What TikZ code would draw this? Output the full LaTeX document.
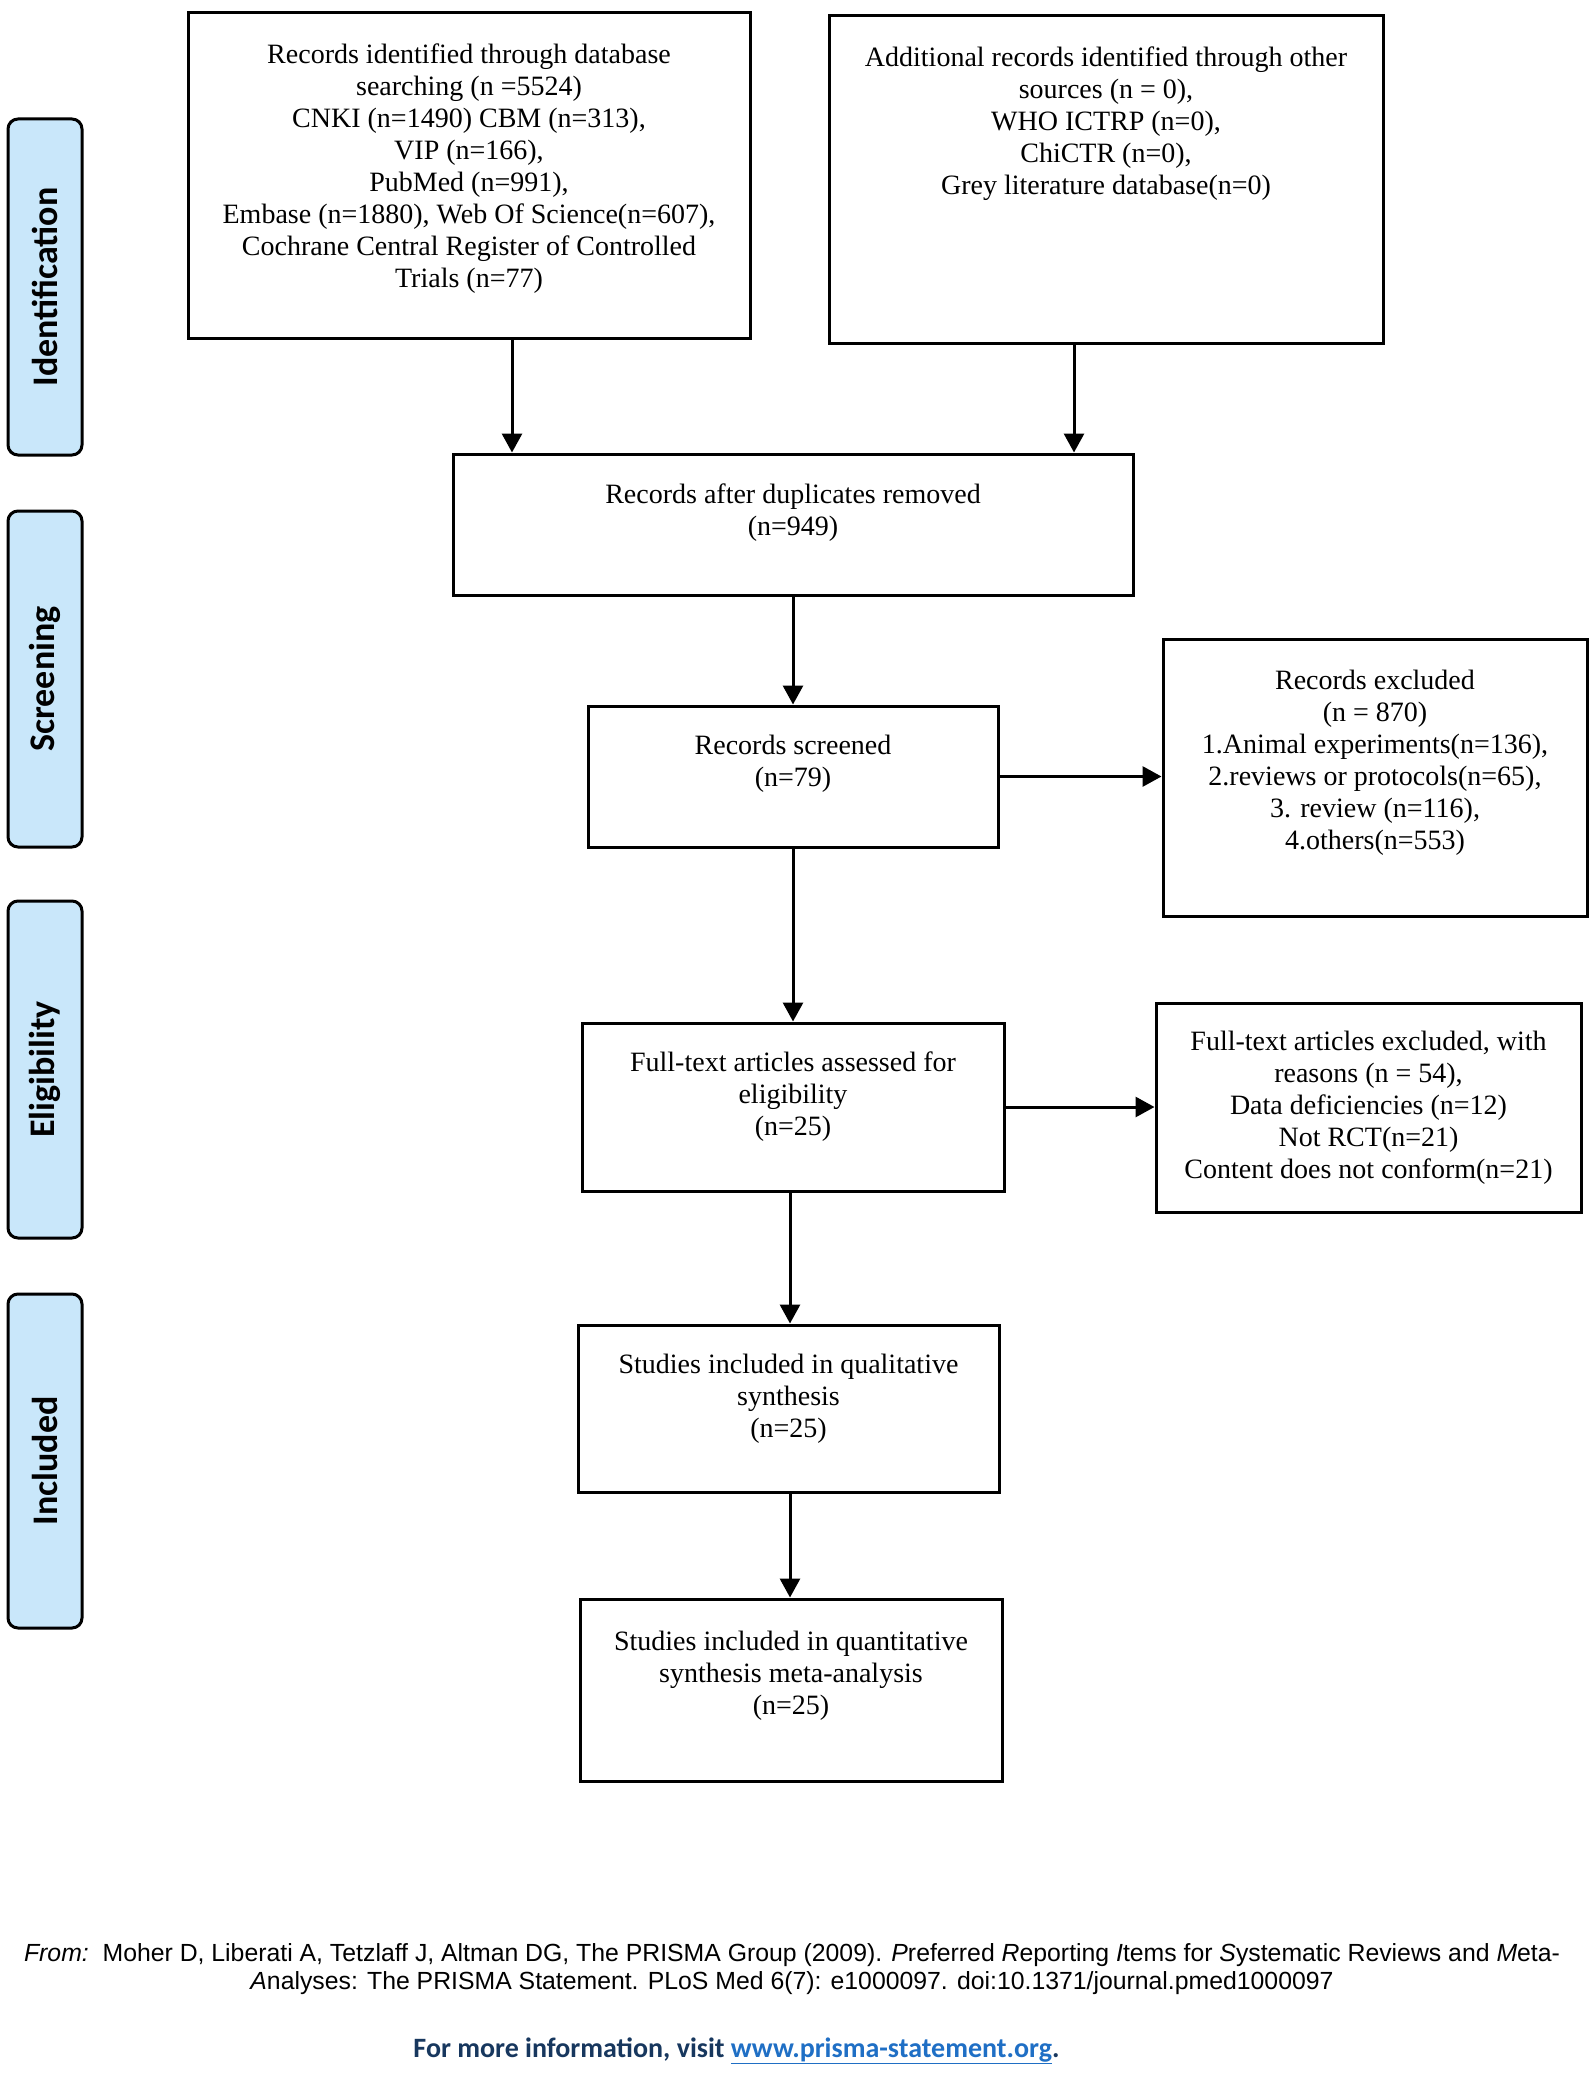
\documentclass[tikz,border=0pt]{standalone}
\usepackage{fontspec}
\setmainfont{Liberation Serif}
\newfontfamily\labfont{Carlito}
\newfontfamily\arialfont{Liberation Sans}
\usetikzlibrary{arrows.meta,calc}
\definecolor{labfill}{HTML}{C9E7FA}
\definecolor{navy}{HTML}{17375E}
\definecolor{linkblue}{HTML}{1F6FC5}
\begin{document}
\begin{tikzpicture}[x=1pt,y=-1pt,
  box/.style={draw=black,line width=3pt,rectangle,inner sep=0pt},
  txt/.style={font=\fontsize{28}{32}\selectfont,align=center,inner sep=0pt,anchor=north},
  side/.style={draw=black,line width=3pt,fill=labfill,rounded corners=10pt,inner sep=0pt,minimum height=74pt},
  sidetxt/.style={font=\labfont\bfseries\fontsize{36}{40}\selectfont,rotate=90,inner sep=0pt},
  arr/.style={line width=3pt,-{Triangle[length=19pt,width=20pt]}}]
\useasboundingbox (0,0) rectangle (1595,2074);
\fill[white] (0,0) rectangle (1595,2074);

% side labels
\node[side,minimum width=336pt,rotate=90] (sid) at (45,287) {};
\node[sidetxt] (sidt) at (sid.center) {Identification};
\node[side,minimum width=336pt,rotate=90] (sscr) at (45,679) {};
\node[sidetxt] (sscrt) at (sscr.center) {Screening};
\node[side,minimum width=337pt,rotate=90] (selig) at (45,1069.5) {};
\node[sidetxt] (seligt) at (selig.center) {Eligibility};
\node[side,minimum width=334pt,rotate=90] (sinc) at (45,1461) {};
\node[sidetxt] (sinct) at (sinc.center) {Included};

% boxes
\node[box,minimum width=562pt,minimum height=325pt] (A) at (469,175.5) {};
\node[box,minimum width=554pt,minimum height=327pt] (B) at (1106,179.5) {};
\node[box,minimum width=680pt,minimum height=141pt] (C) at (793,524.5) {};
\node[box,minimum width=410pt,minimum height=141pt] (D) at (793,776.5) {};
\node[box,minimum width=424pt,minimum height=277pt] (E) at (1375,777.5) {};
\node[box,minimum width=422pt,minimum height=168pt] (F) at (793,1107) {};
\node[box,minimum width=425pt,minimum height=209pt] (G) at (1368.5,1107.5) {};
\node[box,minimum width=421pt,minimum height=167pt] (H) at (788.5,1408.5) {};
\node[box,minimum width=422pt,minimum height=182pt] (I) at (791,1690) {};

% texts
\node[txt] (At) at ([yshift=-29pt]A.north) {\strut Records identified through database\\ searching (n =5524)\\ CNKI (n=1490) CBM (n=313),\\ VIP (n=166),\\ PubMed (n=991),\\ Embase (n=1880), Web Of Science(n=607),\\ Cochrane Central Register of Controlled\\ Trials (n=77)};
\node[txt] (Bt) at ([yshift=-29.6pt]B.north) {\strut Additional records identified through other\\ sources (n = 0),\\ WHO ICTRP (n=0),\\ ChiCTR (n=0),\\ Grey literature database(n=0)};
\node[txt] (Ct) at ([yshift=-28.6pt]C.north) {\strut Records after duplicates removed\\ (n=949)};
\node[txt] (Dt) at ([yshift=-27.6pt]D.north) {\strut Records screened\\ (n=79)};
\node[txt] (Et) at ([yshift=-29.6pt]E.north) {\strut Records excluded\\ (n = 870)\\ 1.Animal experiments(n=136),\\ 2.reviews or protocols(n=65),\\ 3. review (n=116),\\ 4.others(n=553)};
\node[txt] (Ft) at ([yshift=-27.6pt]F.north) {\strut Full-text articles assessed for\\ eligibility\\ (n=25)};
\node[txt] (Gt) at ([yshift=-26.6pt]G.north) {\strut Full-text articles excluded, with\\ reasons (n = 54),\\ Data deficiencies (n=12)\\ Not RCT(n=21)\\ Content does not conform(n=21)};
\node[txt] (Ht) at ([yshift=-27.6pt]H.north) {\strut Studies included in qualitative\\ synthesis\\ (n=25)};
\node[txt] (It) at ([yshift=-30.6pt]I.north) {\strut Studies included in quantitative\\ synthesis meta-analysis\\ (n=25)};

% connectors
\coordinate (xa) at (512,0);
\coordinate (xb) at (1074,0);
\coordinate (xf) at (790,0);
\draw[arr] (A.south -| xa) -- (C.north -| xa);
\draw[arr] (B.south -| xb) -- (C.north -| xb);
\draw[arr] (C.south) -- (D.north);
\draw[arr] (D.east) -- (D.east -| E.west);
\draw[arr] (D.south) -- (F.north);
\draw[arr] (F.east) -- (F.east -| G.west);
\draw[arr] (F.south -| xf) -- (H.north -| xf);
\draw[arr] (H.south -| xf) -- (I.north -| xf);

% footer
\node[font=\arialfont\fontsize{24.8}{28}\selectfont,align=center,inner sep=0pt] (ref) at (792,1969) {\textit{From:}\ \ Moher D, Liberati A, Tetzlaff J, Altman DG, The PRISMA Group (2009). \textit{P}referred \textit{R}eporting \textit{I}tems for \textit{S}ystematic Reviews and \textit{M}eta-\\ \textit{A}nalyses: The PRISMA Statement. PLoS Med 6(7): e1000097. doi:10.1371/journal.pmed1000097};
\node[font=\labfont\bfseries\fontsize{28}{32}\selectfont,text=navy,inner sep=0pt] (more) at (736.5,2051) {For more information, visit \textcolor{linkblue}{\underline{www.prisma-statement.org}}.};
\end{tikzpicture}
\end{document}
